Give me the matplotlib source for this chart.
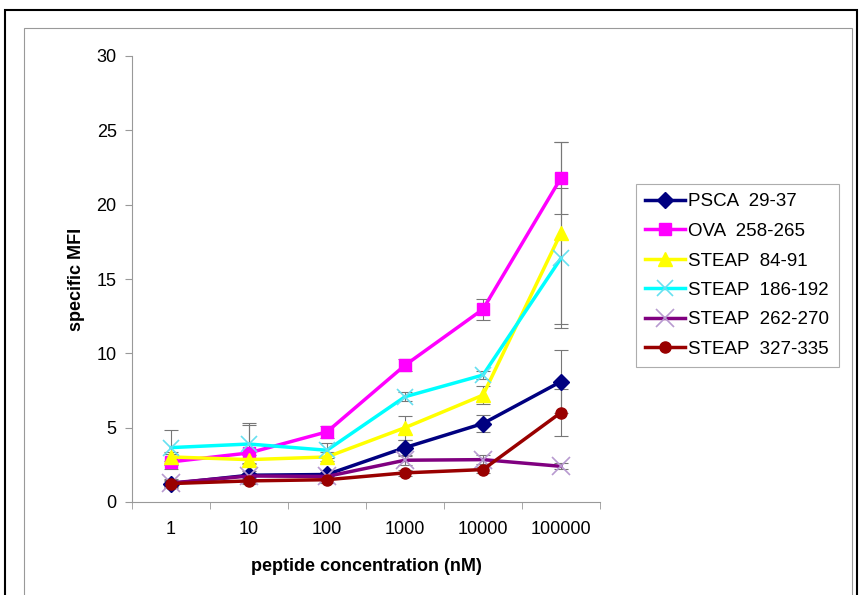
import matplotlib
matplotlib.use("Agg")
import matplotlib.pyplot as plt
from matplotlib.patches import Rectangle

plt.rcParams["font.family"] = ["Liberation Sans", "DejaVu Sans"]

concentrations = ["1", "10", "100", "1000", "10000", "100000"]

psca_29_37 = [1.24, 1.8, 1.85, 3.66, 5.28, 8.1]
ova_258_265 = [2.7, 3.3, 4.72, 9.2, 12.97, 21.8]
steap_84_91 = [3.03, 2.85, 3.03, 5.0, 7.19, 18.1]
steap_186_192 = [3.66, 3.9, 3.48, 7.08, 8.54, 16.4]
steap_262_270 = [1.28, 1.75, 1.72, 2.81, 2.85, 2.4]
steap_327_335 = [1.24, 1.42, 1.5, 1.96, 2.18, 6.02]

psca_err = [0.3, 0.3, 0.3, 0.5, 0.6, 2.1]
ova_err = [0.5, 2.0, 0.4, 0.4, 0.7, 2.4]
steap_84_91_err = [0.3, 0.3, 0.3, 0.8, 0.6, 6.1]
steap_186_192_err = [1.2, 1.3, 0.5, 0.3, 0.3, 4.7]
steap_262_270_err = [0.2, 0.2, 0.2, 0.3, 0.3, 0.2]
steap_327_335_err = [0.2, 0.2, 0.2, 0.2, 0.2, 1.6]

labels = ["PSCA  29-37", "OVA  258-265", "STEAP  84-91",
          "STEAP  186-192", "STEAP  262-270", "STEAP  327-335"]
series = [psca_29_37, ova_258_265, steap_84_91, steap_186_192, steap_262_270, steap_327_335]
errors = [psca_err, ova_err, steap_84_91_err, steap_186_192_err, steap_262_270_err, steap_327_335_err]
colors = ["#000080", "#ff00ff", "#ffff00", "#00ffff", "#800080", "#990000"]
marker_colors = ["#000080", "#ff00ff", "#ffff00", "#66e0f0", "#b89ad0", "#990000"]
markers = ["D", "s", "^", "x", "x", "o"]
sizes = [8, 9, 10, 11, 13, 8]

fig = plt.figure(figsize=(8.59, 5.95), dpi=100)
fig.patches.append(Rectangle((5 / 859, -0.01), 852 / 859, 1 - 10 / 595 + 0.01,
                             transform=fig.transFigure, fill=False,
                             edgecolor="black", linewidth=1.5))
fig.patches.append(Rectangle((24 / 859, -0.01), 828 / 859, 1 - 28 / 595 + 0.01,
                             transform=fig.transFigure, fill=False,
                             edgecolor="#999999", linewidth=0.8))

ax = fig.add_axes([132 / 859, 1 - 502 / 595, 468 / 859, 446 / 595])
x = list(range(len(concentrations)))
for vals, err, c, mc, m, s, lab in zip(series, errors, colors, marker_colors,
                                       markers, sizes, labels):
    ax.errorbar(x, vals, yerr=err, fmt="none", ecolor="#777777",
                elinewidth=0.8, capsize=5, capthick=0.8, zorder=1)
    ax.plot(x, vals, color=c, marker=m, markersize=s, linewidth=2.5,
            markeredgecolor=mc, markerfacecolor=mc,
            markeredgewidth=1.2 if m == "x" else 1, label=lab, zorder=2)

ax.set_xlim(-0.5, len(concentrations) - 0.5)
ax.set_ylim(0, 30)
ax.set_yticks(range(0, 31, 5))
ax.set_xticks(x)
ax.set_xticklabels(concentrations)
ax.set_xticks([i - 0.5 for i in range(len(concentrations) + 1)], minor=True)
ax.tick_params(axis="x", which="major", length=0, pad=14, labelsize=13)
ax.tick_params(axis="x", which="minor", length=5, color="#999999", direction="out")
ax.tick_params(axis="y", length=5, color="#999999", labelsize=13, pad=6)
for side in ("top", "right"):
    ax.spines[side].set_visible(False)
for side in ("left", "bottom"):
    ax.spines[side].set_color("#999999")
    ax.spines[side].set_linewidth(0.8)

ax.set_xlabel("peptide concentration (nM)", fontsize=13, fontweight="bold", labelpad=14)
ax.set_ylabel("specific MFI", fontsize=13, fontweight="bold", labelpad=8)

leg = ax.legend(loc="upper left", bbox_to_anchor=(636 / 859, 1 - 184 / 595),
                bbox_transform=fig.transFigure, fontsize=13.5, frameon=True,
                fancybox=False, edgecolor="#999999", handlelength=2.1,
                handletextpad=0.2, labelspacing=0.66, borderpad=0.5,
                borderaxespad=0)
leg.get_frame().set_linewidth(0.8)

fig.savefig("out.png", dpi=100)
